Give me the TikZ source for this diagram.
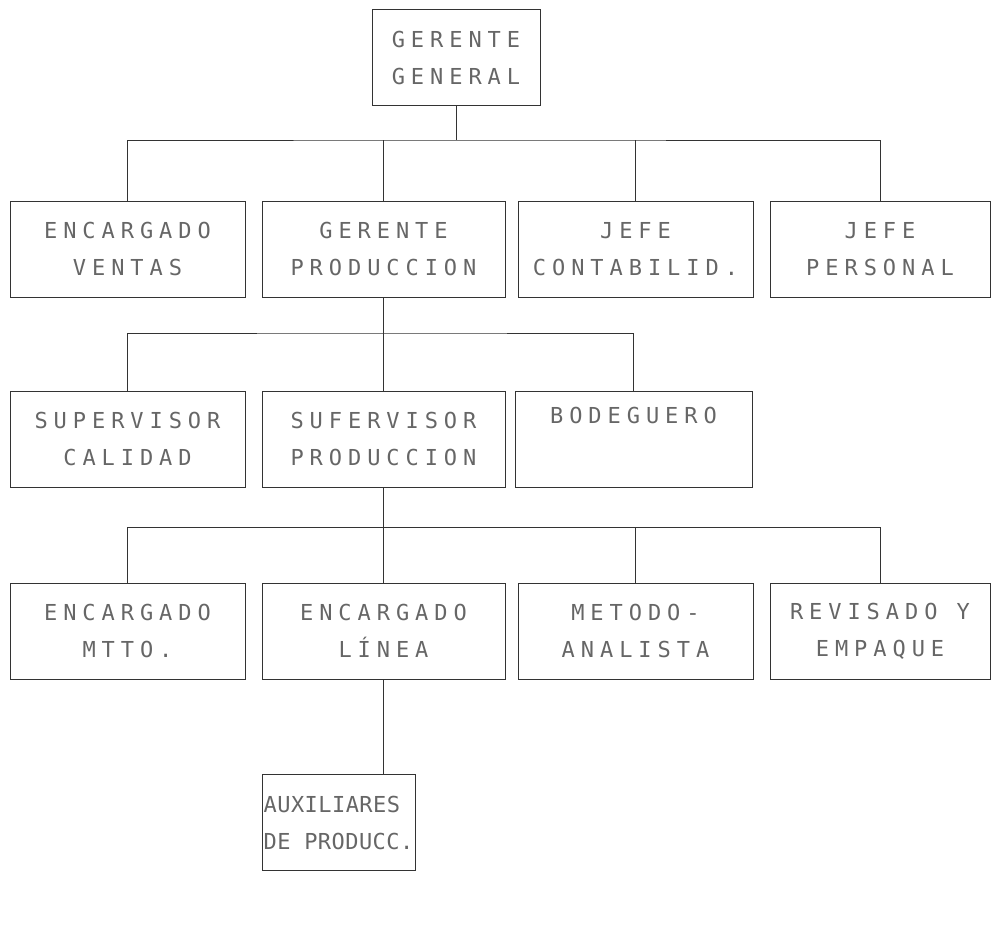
\documentclass[tikz,border=0pt]{standalone}
\usepackage{fontspec}
\newfontfamily\dotfont{DejaVu Sans Mono}[LetterSpace=27]
\newfontfamily\dotfontnarrow{DejaVu Sans Mono}[LetterSpace=2]
\usetikzlibrary{positioning}

\begin{document}
\begin{tikzpicture} [
    x=1pt, y=-1pt,
    puesto/.style = {draw=black!80, line width=0.6pt, rectangle, inner sep=0pt,
        minimum height=96pt, align=center, text=black!60,
        font=\dotfont\fontsize{22}{37}\selectfont},
    linea/.style = {draw=black!80, line width=0.6pt}
    ]
    \useasboundingbox (0,0) rectangle (995,930);

    \node[puesto, minimum width=168pt] (GG) at (456,57.5) {GERENTE\\GENERAL};

    \node[puesto, minimum width=235pt] (EV) at (127.5,249) {ENCARGADO\\VENTAS};
    \node[puesto, minimum width=243pt] (GP) at (383.5,249) {GERENTE\\PRODUCCION};
    \node[puesto, minimum width=235pt] (JC) at (635.5,249) {JEFE\\CONTABILID.};
    \node[puesto, minimum width=220pt] (JP) at (880,249) {JEFE\\PERSONAL};

    \node[puesto, minimum width=235pt] (SC) at (127.5,439) {SUPERVISOR\\CALIDAD};
    \node[puesto, minimum width=243pt] (SP) at (383.5,439) {SUFERVISOR\\PRODUCCION};
    \node[puesto, minimum width=237pt] (BO) at (633.5,439) {BODEGUERO\\\strut};

    \node[puesto, minimum width=235pt] (EM) at (127.5,631) {ENCARGADO\\MTTO.};
    \node[puesto, minimum width=243pt] (EL) at (383.5,631) {ENCARGADO\\LÍNEA};
    \node[puesto, minimum width=235pt] (MA) at (635.5,631) {METODO-\\ANALISTA};
    \node[puesto, minimum width=220pt] (RE) at (880,631) {REVISADO Y\\EMPAQUE};

    \node[puesto, minimum width=153pt, align=left,
        font=\dotfontnarrow\fontsize{22}{37}\selectfont] (AU) at (338.5,822.5) {AUXILIARES\\DE PRODUCC.};

    \coordinate (B1) at (456,140);
    \coordinate (B2) at (383.5,333);
    \coordinate (B3) at (383.5,527);

    \path[linea] (GG.south) -- (B1);
    \path[linea] (EV.north) |- (B1) -| (JP.north);
    \path[linea] (GP.north) -- (GP.north |- B1);
    \path[linea] (JC.north) -- (JC.north |- B1);

    \path[linea] (GP.south) -- (SP.north);
    \path[linea] (SC.north) |- (B2) -| (BO.north);

    \path[linea] (SP.south) -- (EL.north);
    \path[linea] (EM.north) |- (B3) -| (RE.north);
    \path[linea] (MA.north) -- (MA.north |- B3);

    \path[linea] (EL.south) -- (EL.south |- AU.north);
\end{tikzpicture}
\end{document}
